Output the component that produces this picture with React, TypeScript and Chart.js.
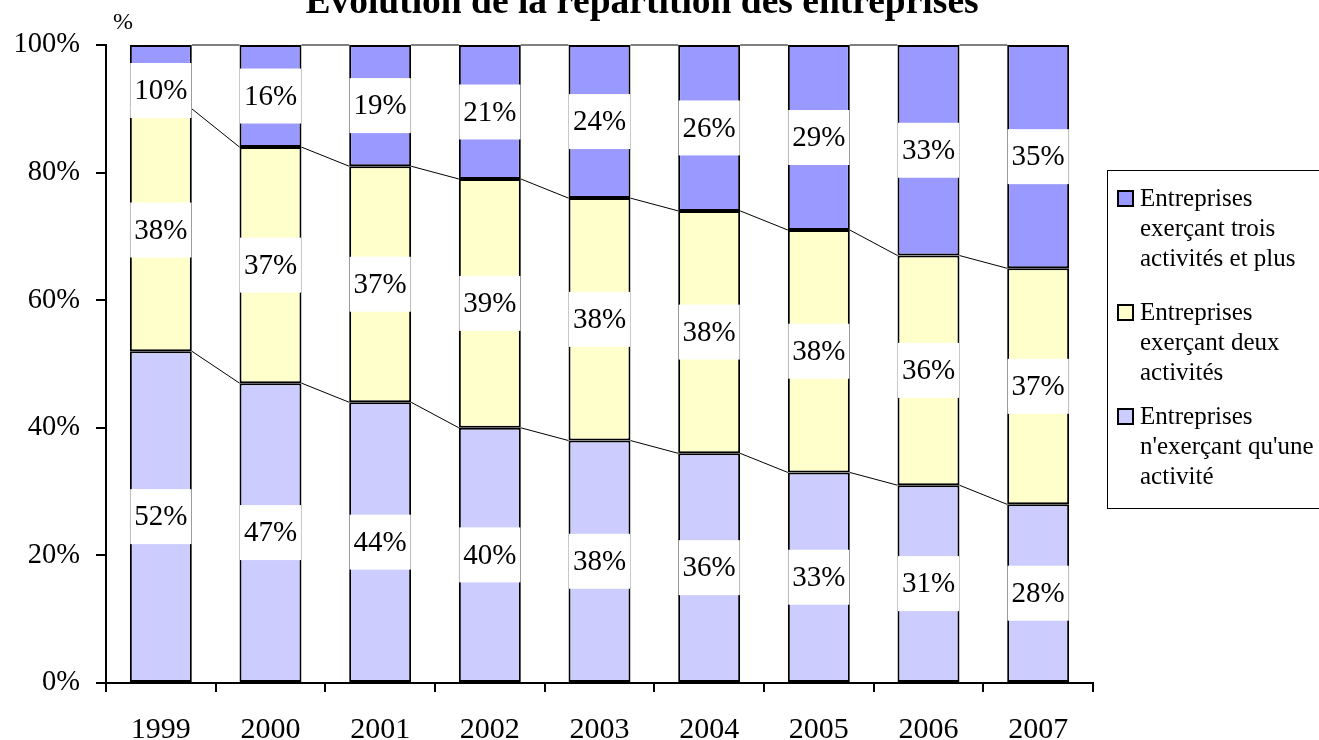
import React, { useEffect, useRef } from "react";
import { Chart, registerables } from "chart.js";

Chart.register(...registerables);

const years = ["1999", "2000", "2001", "2002", "2003", "2004", "2005", "2006", "2007"];
const oneActivity = [52, 47, 44, 40, 38, 36, 33, 31, 28];
const twoActivities = [38, 37, 37, 39, 38, 38, 38, 36, 37];
const threePlus = [10, 16, 19, 21, 24, 26, 29, 33, 35];

const titleText = "Evolution de la répartition des entreprises";
const unitText = "%";
const legendItems = [
  { lines: ["Entreprises", "exerçant trois", "activités et plus"], color: "#9999FF" },
  { lines: ["Entreprises", "exerçant deux", "activités"], color: "#FFFFCC" },
  { lines: ["Entreprises", "n'exerçant qu'une", "activité"], color: "#CCCCFF" },
];

const FONT = "'Liberation Serif', 'Times New Roman', serif";

const seriesLinesPlugin = {
  id: "seriesLines",
  beforeDatasetsDraw(chart: any) {
    const ctx = chart.ctx;
    ctx.save();
    ctx.strokeStyle = "#000";
    ctx.lineWidth = 1;
    chart.data.datasets.forEach((_: any, di: number) => {
      const meta = chart.getDatasetMeta(di);
      for (let i = 0; i < meta.data.length - 1; i++) {
        const a = meta.data[i].getProps(["x", "y", "width"], true);
        const b = meta.data[i + 1].getProps(["x", "y", "width"], true);
        ctx.beginPath();
        ctx.moveTo(a.x + a.width / 2, a.y);
        ctx.lineTo(b.x - b.width / 2, b.y);
        ctx.stroke();
      }
    });
    ctx.restore();
  },
};

const labelsPlugin = {
  id: "segLabels",
  afterDatasetsDraw(chart: any) {
    const ctx = chart.ctx;
    const top = chart.chartArea.top;
    ctx.save();
    ctx.font = `29px ${FONT}`;
    ctx.textAlign = "center";
    ctx.textBaseline = "middle";
    chart.data.datasets.forEach((ds: any, di: number) => {
      const meta = chart.getDatasetMeta(di);
      meta.data.forEach((el: any, i: number) => {
        const p = el.getProps(["x", "y", "base"], true);
        const txt = ds.data[i] + "%";
        const boxH = 55;
        let cy = (p.y + p.base) / 2;
        if (cy - boxH / 2 < top + 18) cy = top + 18 + boxH / 2;
        const w = ctx.measureText(txt).width + 8;
        ctx.fillStyle = "#fff";
        ctx.fillRect(p.x - w / 2, cy - boxH / 2, w, boxH);
        ctx.fillStyle = "#000";
        ctx.fillText(txt, p.x, cy + 1);
      });
    });
    ctx.restore();
  },
  afterDraw(chart: any) {
    const ctx = chart.ctx;
    ctx.save();
    // title
    ctx.fillStyle = "#000";
    ctx.font = `bold 37.5px ${FONT}`;
    ctx.textAlign = "center";
    ctx.textBaseline = "alphabetic";
    ctx.fillText(titleText, 642, 13);
    // unit
    ctx.font = `24px ${FONT}`;
    ctx.textBaseline = "middle";
    ctx.fillText(unitText, 123, 23);
    // legend
    ctx.strokeStyle = "#000";
    ctx.lineWidth = 1;
    ctx.strokeRect(1107.5, 170.5, 320, 338);
    ctx.font = `25px ${FONT}`;
    ctx.textAlign = "left";
    const starts = [199, 313, 417];
    legendItems.forEach((it, k) => {
      const y0 = starts[k];
      ctx.fillStyle = it.color;
      ctx.fillRect(1118, y0 - 8, 15, 15);
      ctx.lineWidth = 2;
      ctx.strokeRect(1118, y0 - 8, 15, 15);
      ctx.fillStyle = "#000";
      it.lines.forEach((ln, j) => {
        ctx.fillText(ln, 1140, y0 + j * 30);
      });
    });
    ctx.restore();
  },
};

export default function App() {
  const ref = useRef<HTMLCanvasElement>(null);
  useEffect(() => {
    document.body.style.margin = "0";
    const canvas = ref.current!;
    const chart = new Chart(canvas, {
      type: "bar",
      data: {
        labels: years,
        datasets: [
          {
            label: "Entreprises n'exerçant qu'une activité",
            data: oneActivity,
            backgroundColor: "#CCCCFF",
            borderColor: "#000",
            borderWidth: 2,
            borderSkipped: false,
          },
          {
            label: "Entreprises exerçant deux activités",
            data: twoActivities,
            backgroundColor: "#FFFFCC",
            borderColor: "#000",
            borderWidth: 2,
            borderSkipped: false,
          },
          {
            label: "Entreprises exerçant trois activités et plus",
            data: threePlus,
            backgroundColor: "#9999FF",
            borderColor: "#000",
            borderWidth: 2,
            borderSkipped: false,
          },
        ],
      },
      options: {
        responsive: false,
        animation: false,
        devicePixelRatio: 1,
        layout: { padding: { top: 45, right: 1319 - 1093, bottom: 0, left: 0 } },
        datasets: { bar: { categoryPercentage: 1, barPercentage: 0.565 } },
        plugins: { legend: { display: false }, tooltip: { enabled: false }, title: { display: false } },
        scales: {
          x: {
            stacked: true,
            offset: true,
            grid: { offset: true, drawOnChartArea: false, drawTicks: true, tickLength: 9, color: "#000", lineWidth: 2 },
            border: { display: true, color: "#000", width: 2 },
            ticks: { font: { family: FONT, size: 30 }, color: "#000", padding: 20, maxRotation: 0 },
            afterFit: (s: any) => {
              s.height = 740 - 683;
            },
          },
          y: {
            stacked: true,
            min: 0,
            max: 100,
            ticks: {
              stepSize: 20,
              font: { family: FONT, size: 28.5 },
              color: "#000",
              padding: 16,
              callback: (v: any) => v + "%",
            },
            grid: { drawOnChartArea: false, drawTicks: true, tickLength: 10, color: "#000", lineWidth: 2 },
            border: { display: true, color: "#000", width: 2 },
            afterFit: (s: any) => {
              s.width = 106;
            },
          },
        },
      },
      plugins: [seriesLinesPlugin, labelsPlugin],
    });
    return () => chart.destroy();
  }, []);
  return (
    <div style={{ width: 1319, height: 740 }}>
      <canvas ref={ref} width={1319} height={740} style={{ display: "block" }} />
    </div>
  );
}
